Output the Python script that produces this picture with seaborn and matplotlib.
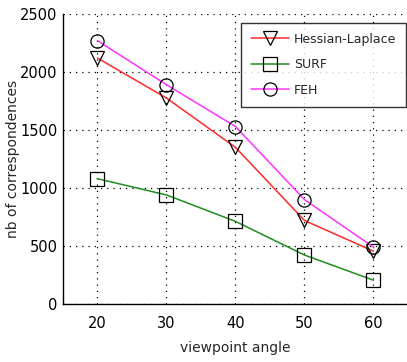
import matplotlib
matplotlib.use("Agg")
import matplotlib.pyplot as plt
import seaborn as sns
import pandas as pd

angles = [20, 30, 40, 50, 60]
hessian_laplace = [2120, 1775, 1350, 720, 455]
surf = [1080, 940, 712, 422, 205]
feh = [2270, 1890, 1530, 900, 490]

series_names = ["Hessian-Laplace", "SURF", "FEH"]
colors = {"Hessian-Laplace": "#ff2a2a", "SURF": "#1e8c1e", "FEH": "#ff33ff"}
markers = {"Hessian-Laplace": "v", "SURF": "s", "FEH": "o"}

df = pd.DataFrame({
    "angle": angles * 3,
    "value": hessian_laplace + surf + feh,
    "method": sum([[n] * len(angles) for n in series_names], []),
})

sns.set_style("white")
plt.rcParams["font.family"] = ["DejaVu Sans"]

fig = plt.figure(figsize=(4.07, 3.62), dpi=100)
ax = fig.add_axes([63 / 407, 58 / 362, 345 / 407, 290 / 362])

sns.lineplot(data=df, x="angle", y="value", hue="method", style="method",
             palette=colors, markers=markers, dashes=False, ax=ax,
             markersize=9.5, markerfacecolor="none", markeredgecolor="black",
             markeredgewidth=0.9, linewidth=1.1)

ax.set_xlim(15, 65)
ax.set_ylim(0, 2500)
ax.set_xticks(angles)
ax.set_yticks([0, 500, 1000, 1500, 2000, 2500])
ax.grid(True, linestyle=(0, (1, 4)), color="black", linewidth=0.9)
for s in ["top", "right"]:
    ax.spines[s].set_visible(False)
for s in ["left", "bottom"]:
    ax.spines[s].set_color("black")
    ax.spines[s].set_linewidth(1.0)
ax.tick_params(axis="both", labelsize=10.5, colors="black", length=0)
ax.tick_params(axis="y", pad=4)
ax.tick_params(axis="x", pad=9)
ax.set_xlabel("viewpoint angle", fontsize=10, labelpad=7)
ax.set_ylabel("nb of correspondences", fontsize=10)
ax.yaxis.set_label_coords(-0.125, 0.5)

leg = ax.legend(loc="upper right", bbox_to_anchor=(0.995, 0.97), fontsize=9,
                frameon=True, fancybox=False, edgecolor="black",
                handlelength=3.0, handletextpad=0.4, borderpad=0.8,
                labelspacing=1.0, borderaxespad=0.0)
leg.get_frame().set_linewidth(1.0)
for h in leg.legend_handles:
    h.set_markerfacecolor("none")
    h.set_markeredgecolor("black")

fig.savefig("out.png", dpi=100)
